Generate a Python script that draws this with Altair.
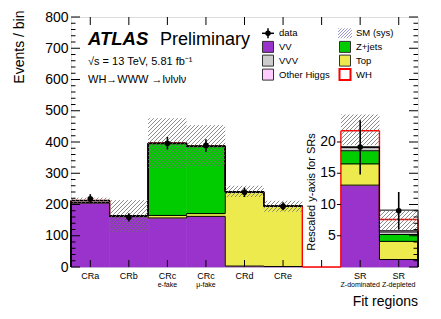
import math
import altair as alt
import pandas as pd

# ---------------- data ----------------
regions = ["CRa", "CRb", "CRc", "CRc", "CRd", "CRe", "", "SR", "SR"]
sublabels = ["", "", "e-fake", "μ-fake", "", "", "", "Z-dominated", "Z-depleted"]
rescaled = [0, 0, 0, 0, 0, 0, 0, 1, 1]   # SR bins use the rescaled axis
SR_SCALE = 20

vv          = [205, 161, 157, 162, 3, 1.5, 0, 13.1, 1.2]
top         = [1, 1, 8, 9, 236, 193, 0, 3.4, 2.9]
zjets       = [0, 0, 229, 214, 0, 0, 0, 2.1, 1.1]
vvv         = [6, 1.5, 2, 2, 1.5, 0.5, 0, 0.5, 0.4]
other_higgs = [0.5, 0.3, 0.3, 0.3, 0.3, 0.2, 0, 0.1, 0.2]
wh          = [0.5, 0.3, 0.3, 0.3, 0.3, 0.2, 0, 2.6, 1.8]
outline     = [213, 164, 396, 387, 241, 195, 0, 19.2, 9.1]

sys_lo = [204, 113, 316, 321, 224, 177, None, 19.5, 5.85]
sys_hi = [222, 214, 476, 454, 260, 212, None, 24.4, 9.1]

data    = [218, 159, 396, 389, 239, 194, None, 19.2, 9.0]
data_lo = [204, 146, 376, 369, 224, 182, None, 14.8, 6.0]
data_hi = [233, 172, 416, 409, 254, 207, None, 23.5, 12.0]

y_ticks_major = [0, 100, 200, 300, 400, 500, 600, 700, 800]
y_ticks_minor = [v for v in range(0, 801, 20) if v % 100]
sr_axis_labels = [5, 10, 15, 20]

comps = ["VV", "Top", "Z+jets", "VVV", "Other Higgs", "WH"]
comp_colors = ["#9933CC", "#ECEA4C", "#00CC00", "#CCCCCC", "#FFCCFF", "#FFFFFF"]
series = [vv, top, zjets, vvv, other_higgs, wh]

# ---------------- layout ----------------
W, H = 347, 250
YMAX = 800
NB = len(regions)
BW = W / NB
FONT = "Liberation Sans"
EMPTY = 6


def disp(v, i):
    return v * SR_SCALE if rescaled[i] else v


# stacked fills + cumulative levels
fill_rows = []
levels = [[] for _ in comps]
for i in range(NB):
    cum = 0.0
    for k, (c, s) in enumerate(zip(comps, series)):
        v = disp(s[i], i)
        if v > 0:
            fill_rows.append(dict(x0=i, x1=i + 1, y0=cum, y1=cum + v, comp=c))
        cum += v
        levels[k].append(cum)
fills = pd.DataFrame(fill_rows)


def step_segments(lv, skip_bins=(), skip_edges=()):
    segs = []
    for i in range(NB):
        if i in skip_bins:
            continue
        segs.append(dict(xa=i, ya=lv[i], xb=i + 1, yb=lv[i]))
    for e in range(NB + 1):
        if e in skip_edges:
            continue
        left = lv[e - 1] if e > 0 else 0
        right = lv[e] if e < NB else 0
        if left != right:
            segs.append(dict(xa=e, ya=left, xb=e, yb=right))
    return segs


black_rows = []
for lv in levels[:5] + [[disp(v, i) for i, v in enumerate(outline)]]:
    black_rows += step_segments(lv, skip_bins=(EMPTY,), skip_edges=(EMPTY, EMPTY + 1))
black = pd.DataFrame(black_rows)
red = pd.DataFrame(step_segments(levels[5]))


def hatch_px(x0, x1, ytop, ybot, spacing=4.0):
    out = []
    k0 = math.ceil((x0 + ytop) / spacing)
    k1 = math.floor((x1 + ybot) / spacing)
    for k in range(k0, k1 + 1):
        c = k * spacing
        xa = max(x0, c - ybot)
        xb = min(x1, c - ytop)
        if xb - xa > 0.3:
            out.append((xa, c - xa, xb, c - xb))
    return out


hatch_rows = []
for i in range(NB):
    if sys_lo[i] is None:
        continue
    lo, hi = disp(sys_lo[i], i), disp(sys_hi[i], i)
    ytop = H - hi / YMAX * H
    ybot = H - lo / YMAX * H
    for xa, ya, xb, yb in hatch_px(i * BW, (i + 1) * BW, ytop, ybot):
        hatch_rows.append(dict(xa=xa / BW, ya=(H - ya) / H * YMAX,
                               xb=xb / BW, yb=(H - yb) / H * YMAX))
hatch = pd.DataFrame(hatch_rows)

pts = pd.DataFrame([
    dict(xc=i + 0.5, y=disp(data[i], i), lo=disp(data_lo[i], i), hi=disp(data_hi[i], i))
    for i in range(NB) if data[i] is not None
])

labels_df = pd.DataFrame(dict(xc=[i + 0.5 for i in range(NB)], lab=regions, sub=sublabels))
ymaj = pd.DataFrame(dict(v=y_ticks_major))
ymin = pd.DataFrame(dict(v=y_ticks_minor))
sr_ax = pd.DataFrame(dict(v=sr_axis_labels, lab=[str(v) for v in sr_axis_labels]))
sr_ax["y"] = sr_ax["v"] * SR_SCALE
sr_ax["xe"] = EMPTY + 1

xscale = alt.Scale(domain=[0, NB], nice=False, zero=False)
yscale = alt.Scale(domain=[0, YMAX], nice=False, zero=True)
yaxis = alt.Axis(values=y_ticks_major, ticks=False, domain=False, grid=False,
                 labelFontSize=14, labelPadding=3, labelColor="black", labelFont=FONT,
                 title="Events / bin", titleFontSize=14, titleFontWeight="normal",
                 titleFont=FONT, titleColor="black", titleAngle=270,
                 titleX=-52, titleY=-7, titleAlign="right", titleBaseline="middle")


def X(f):
    return alt.X(f, type="quantitative", scale=xscale, axis=None)


def Y(f):
    return alt.Y(f, type="quantitative", scale=yscale, axis=yaxis)


comp_scale = alt.Scale(domain=comps, range=comp_colors)

layers = []
layers.append(alt.Chart(fills).mark_rect(strokeWidth=0.6).encode(
    x=X("x0"), x2="x1", y=Y("y0"), y2="y1",
    fill=alt.Fill("comp:N", scale=comp_scale, legend=None),
    stroke=alt.Stroke("comp:N", scale=comp_scale, legend=None)))
layers.append(alt.Chart(red).mark_rule(color="#FF0000", strokeWidth=1.4).encode(
    x=X("xa"), y=Y("ya"), x2="xb", y2="yb"))
layers.append(alt.Chart(black).mark_rule(color="black", strokeWidth=1).encode(
    x=X("xa"), y=Y("ya"), x2="xb", y2="yb"))
layers.append(alt.Chart(hatch).mark_rule(color="#6E6E6E", strokeWidth=0.8).encode(
    x=X("xa"), y=Y("ya"), x2="xb", y2="yb"))
layers.append(alt.Chart(pts).mark_rule(color="black", strokeWidth=1.6).encode(
    x=X("xc"), y=Y("lo"), y2="hi"))
layers.append(alt.Chart(pts).mark_circle(size=32, color="black", opacity=1).encode(
    x=X("xc"), y=Y("y")))

# axis ticks (inward, ROOT style)
layers.append(alt.Chart(ymaj).mark_rule(color="black", strokeWidth=1).encode(
    x=alt.value(0), x2=alt.value(9), y=Y("v")))
layers.append(alt.Chart(ymin).mark_rule(color="black", strokeWidth=1).encode(
    x=alt.value(0), x2=alt.value(4.5), y=Y("v")))
layers.append(alt.Chart(ymaj).mark_rule(color="black", strokeWidth=1).encode(
    x=alt.value(W - 9), x2=alt.value(W), y=Y("v")))
layers.append(alt.Chart(ymin).mark_rule(color="black", strokeWidth=1).encode(
    x=alt.value(W - 4.5), x2=alt.value(W), y=Y("v")))
layers.append(alt.Chart(labels_df).mark_rule(color="black", strokeWidth=1).encode(
    x=X("xc"), y=alt.value(0), y2=alt.value(8)))
layers.append(alt.Chart(labels_df).mark_rule(color="black", strokeWidth=1).encode(
    x=X("xc"), y=alt.value(H - 7), y2=alt.value(H)))

# x labels
layers.append(alt.Chart(labels_df).mark_text(font=FONT, fontSize=9, baseline="middle", color="black").encode(
    x=X("xc"), y=alt.value(H + 9), text="lab:N"))
layers.append(alt.Chart(labels_df).mark_text(font=FONT, fontSize=7, baseline="middle", color="black").encode(
    x=X("xc"), y=alt.value(H + 18), text="sub:N"))

# rescaled SR axis
layers.append(alt.Chart(sr_ax).mark_text(font=FONT, fontSize=14, align="right", baseline="middle",
                                          dx=-5, color="black").encode(
    x=X("xe"), y=Y("y"), text="lab:N"))
layers.append(alt.Chart(sr_ax).mark_tick(orient="horizontal", size=4, thickness=1, xOffset=-2,
                                          color="black", opacity=1).encode(
    x=X("xe"), y=Y("y")))


def txt(s, x, y, size, **kw):
    return alt.Chart(pd.DataFrame(dict(t=[s]))).mark_text(font=FONT, fontSize=size, color="black", **kw).encode(
        x=alt.value(x), y=alt.value(y), text="t:N")


layers.append(txt("Rescaled y-axis for SRs", 241, 175, 11, angle=270, align="center", baseline="middle"))
layers.append(txt("Fit regions", W, 285, 14, align="right", baseline="middle"))
layers.append(txt("ATLAS", 17, 28, 18.5, align="left", baseline="alphabetic", fontWeight="bold", fontStyle="italic"))
layers.append(txt("Preliminary", 89, 28, 18, align="left", baseline="alphabetic"))
layers.append(txt("√s = 13 TeV, 5.81 fb⁻¹", 17, 44.5, 11, align="left", baseline="middle"))
layers.append(txt("WH→WWW →lνlνlν", 17, 63, 11, align="left", baseline="middle"))

# ---------------- legend ----------------
leg_items = [("data", 0, 0, "data"), ("VV", 0, 1, "box"), ("VVV", 0, 2, "box"),
             ("Other Higgs", 0, 3, "box"), ("SM (sys)", 1, 0, "hatch"),
             ("Z+jets", 1, 1, "box"), ("Top", 1, 2, "box"), ("WH", 1, 3, "wh")]
sym_cx = [197, 274]
text_x = [208, 285]
row_y = [16.3, 29.9, 43.6, 57.6]
cmap = dict(zip(comps, comp_colors))

leg_text = pd.DataFrame([dict(t=n, x=text_x[c], y=row_y[r]) for n, c, r, _ in leg_items])
boxes = []
hl = []
for n, c, r, kind in leg_items:
    cx, cy = sym_cx[c], row_y[r]
    if kind == "box":
        boxes.append(dict(x0=cx - 5.5, x1=cx + 5.5, y0=cy - 5.5, y1=cy + 5.5, f=cmap[n], s="#333333", w=1))
    elif kind == "wh":
        boxes.append(dict(x0=cx - 5.5, x1=cx + 5.5, y0=cy - 5.5, y1=cy + 5.5, f="#FFFFFF", s="#FF0000", w=2))
    elif kind == "hatch":
        for xa, ya, xb, yb in hatch_px(cx - 7, cx + 7, cy - 5, cy + 5, spacing=3.0):
            hl.append(dict(xa=xa, ya=ya, xb=xb, yb=yb))
boxes = pd.DataFrame(boxes)
hl = pd.DataFrame(hl)
dsym = pd.DataFrame([dict(x=sym_cx[0], y=row_y[0])])

layers.append(alt.Chart(boxes).mark_rect().encode(
    x=alt.X("x0:Q", scale=None, axis=None), x2="x1",
    y=alt.Y("y0:Q", scale=None, axis=None), y2="y1",
    fill=alt.Fill("f:N", scale=None), stroke=alt.Stroke("s:N", scale=None),
    strokeWidth=alt.StrokeWidth("w:Q", scale=None)))
layers.append(alt.Chart(hl).mark_rule(color="#8C8CC8", strokeWidth=0.9).encode(
    x=alt.X("xa:Q", scale=None, axis=None), x2="xb",
    y=alt.Y("ya:Q", scale=None, axis=None), y2="yb"))
layers.append(alt.Chart(dsym).transform_calculate(xl="datum.x-6", xr="datum.x+6").mark_rule(
    color="black", strokeWidth=1.5).encode(
    x=alt.X("xl:Q", scale=None, axis=None), x2="xr",
    y=alt.Y("y:Q", scale=None, axis=None)))
layers.append(alt.Chart(dsym).transform_calculate(yt="datum.y-5", yb="datum.y+5").mark_rule(
    color="black", strokeWidth=1.5).encode(
    x=alt.X("x:Q", scale=None, axis=None),
    y=alt.Y("yt:Q", scale=None, axis=None), y2="yb"))
layers.append(alt.Chart(dsym).mark_circle(size=30, color="black", opacity=1).encode(
    x=alt.X("x:Q", scale=None, axis=None), y=alt.Y("y:Q", scale=None, axis=None)))
layers.append(alt.Chart(leg_text).mark_text(font=FONT, fontSize=9.5, align="left", baseline="middle",
                                             color="black").encode(
    x=alt.X("x:Q", scale=None, axis=None), y=alt.Y("y:Q", scale=None, axis=None), text="t:N"))

chart = alt.layer(*layers).properties(
    width=W, height=H,
    autosize=alt.AutoSizeParams(type="none"),
    padding={"left": 63, "top": 9, "right": 10, "bottom": 50},
).configure_view(stroke="black", strokeWidth=1).configure(font=FONT)

chart.save("out.html", embed_options={"renderer": "svg", "actions": False})
